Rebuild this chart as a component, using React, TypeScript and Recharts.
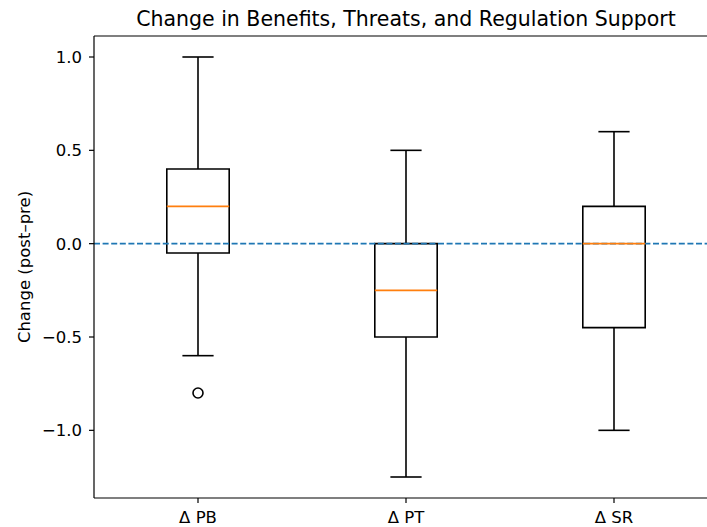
import React from 'react';
import { ComposedChart, XAxis, YAxis, Scatter, ReferenceArea, ReferenceLine } from 'recharts';

const categories = ['Δ PB', 'Δ PT', 'Δ SR'];
const positions = [1, 2, 3];
const whiskerLow = [-0.6, -1.25, -1.0];
const q1 = [-0.05, -0.5, -0.45];
const median = [0.2, -0.25, 0];
const q3 = [0.4, 0, 0.2];
const whiskerHigh = [1.0, 0.5, 0.6];
const outliers = [[-0.8], [], []];
const yTicks = [-1.0, -0.5, 0.0, 0.5, 1.0];

const BOX_HALF = 0.15;
const CAP_HALF = 0.075;
const FONT = 'DejaVu Sans, sans-serif';

const outlierPoints = outliers.flatMap((vals, i) => vals.map((v) => ({ x: positions[i], y: v })));

const fmtY = (v: number) => {
  const s = Math.abs(v).toFixed(1);
  return v < 0 ? '\u2212' + s : s;
};

const Ring = (props: any) => {
  const { cx, cy } = props;
  return <circle cx={cx} cy={cy} r={5} fill="none" stroke="#000" strokeWidth={1.6} />;
};

const App: React.FC = () => {
  const line = { stroke: '#000', strokeWidth: 1.6 };
  return (
    <div style={{ position: 'fixed', left: 0, top: 0, width: 707, height: 527, overflow: 'hidden', background: '#fff', fontFamily: FONT }}>
      <div style={{ position: 'absolute', left: 94, width: 624, top: 9, textAlign: 'center', fontSize: 20.5, lineHeight: 1, color: '#000', whiteSpace: 'nowrap' }}>
        Change in Benefits, Threats, and Regulation Support
      </div>
      <ComposedChart width={740} height={527} margin={{ top: 36, right: 22, left: 0, bottom: 0 }}>
        <XAxis
          type="number"
          dataKey="x"
          domain={[0.5, 3.5]}
          ticks={positions}
          tickFormatter={(v: number) => categories[positions.indexOf(v)] ?? ''}
          allowDataOverflow
          height={29}
          tickSize={5}
          tickMargin={8}
          stroke="#000"
          strokeWidth={1.2}
          tick={{ fill: '#000', fontSize: 16.5, fontFamily: FONT }}
        />
        <YAxis
          type="number"
          dataKey="y"
          domain={[-1.3625, 1.1125]}
          ticks={yTicks}
          tickFormatter={fmtY}
          allowDataOverflow
          width={94}
          tickSize={5}
          tickMargin={7}
          stroke="#000"
          strokeWidth={1.2}
          tick={{ fill: '#000', fontSize: 16.5, fontFamily: FONT }}
          label={{ value: 'Change (post–pre)', angle: -90, position: 'center', dx: -23, fill: '#000', fontSize: 16.5, fontFamily: FONT }}
        />
        {/* top and right spines */}
        <ReferenceLine y={1.1125} stroke="#000" strokeWidth={1.2} />
        <ReferenceLine x={3.5} stroke="#000" strokeWidth={1.2} />
        {positions.map((p, i) => (
          <ReferenceArea
            key={'box' + i}
            x1={p - BOX_HALF}
            x2={p + BOX_HALF}
            y1={q1[i]}
            y2={q3[i]}
            fill="none"
            fillOpacity={0}
            stroke="#000"
            strokeWidth={1.6}
          />
        ))}
        {positions.map((p, i) => (
          <ReferenceLine key={'wl' + i} segment={[{ x: p, y: whiskerLow[i] }, { x: p, y: q1[i] }]} {...line} />
        ))}
        {positions.map((p, i) => (
          <ReferenceLine key={'wh' + i} segment={[{ x: p, y: q3[i] }, { x: p, y: whiskerHigh[i] }]} {...line} />
        ))}
        {positions.map((p, i) => (
          <ReferenceLine key={'cl' + i} segment={[{ x: p - CAP_HALF, y: whiskerLow[i] }, { x: p + CAP_HALF, y: whiskerLow[i] }]} {...line} />
        ))}
        {positions.map((p, i) => (
          <ReferenceLine key={'ch' + i} segment={[{ x: p - CAP_HALF, y: whiskerHigh[i] }, { x: p + CAP_HALF, y: whiskerHigh[i] }]} {...line} />
        ))}
        <ReferenceLine y={0} stroke="#1f77b4" strokeWidth={1.6} strokeDasharray="6 2.6" />
        {positions.map((p, i) => (
          <ReferenceLine key={'md' + i} segment={[{ x: p - BOX_HALF, y: median[i] }, { x: p + BOX_HALF, y: median[i] }]} stroke="#ff7f0e" strokeWidth={1.6} />
        ))}
        <Scatter data={outlierPoints} shape={<Ring />} isAnimationActive={false} />
      </ComposedChart>
    </div>
  );
};

export default App;
